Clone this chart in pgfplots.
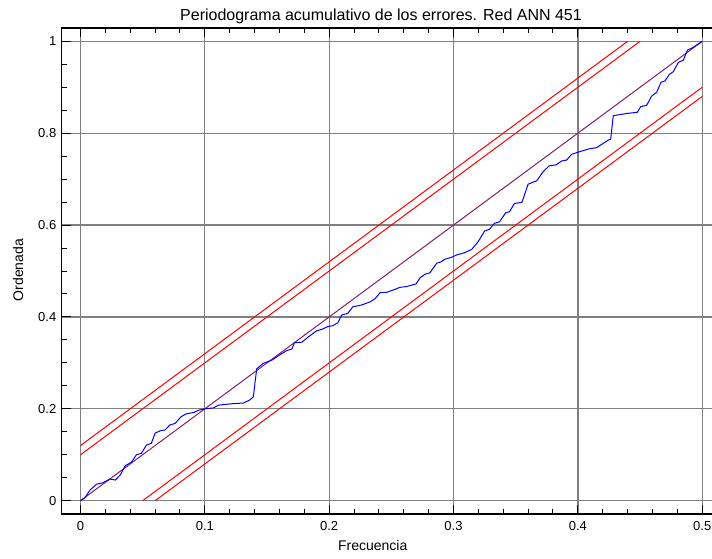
\documentclass[border=0pt]{standalone}
\usepackage{pgfplots}
\pgfplotsset{compat=1.18}
\usepackage{fontspec}
\setmainfont{Liberation Sans}
\definecolor{diag}{rgb}{0.50,0.12,0.40}
\definecolor{gridgray}{rgb}{0.50,0.50,0.50}

\begin{document}
\begin{tikzpicture}
\begin{axis}[
  scale only axis,
  width=659pt, height=486pt,
  xmin=-0.015, xmax=0.515,
  ymin=-0.029, ymax=1.029,
  xtick={0,0.1,0.2,0.3,0.4,0.5},
  xticklabels={0,0.1,0.2,0.3,0.4,0.5},
  ytick={0,0.2,0.4,0.6,0.8,1},
  yticklabels={0,0.2,0.4,0.6,0.8,1},
  minor x tick num=4,
  minor y tick num=3,
  tick align=inside,
  major tick length=9pt,
  minor tick length=5pt,
  tick style={black, line width=1pt},
  grid=major,
  major grid style={gridgray, line width=1.3pt},
  axis line style={black, line width=1.2pt},
  ticklabel style={font=\fontsize{13}{15}\selectfont},
  xticklabel style={yshift=-4pt},
  yticklabel style={xshift=-2pt},
  title={Periodograma acumulativo de los errores. Red ANN 451},
  title style={at={(axis cs:0.2417,1.029)}, anchor=base, yshift=2pt,
               font=\fontsize{16}{18}\selectfont},
  xlabel={Frecuencia},
  xlabel style={at={(axis cs:0.235,-0.029)}, anchor=north, yshift=-23pt,
                font=\fontsize{14}{16}\selectfont},
  ylabel={Ordenada},
  ylabel style={at={(axis cs:-0.015,0.502)}, anchor=south, yshift=35pt,
                font=\fontsize{14}{16}\selectfont},
  clip=true,
]
% confidence bands
\addplot[red, line width=1pt] coordinates {(0,0.12) (0.44,1)};
\addplot[red, line width=1pt] coordinates {(0,0.10) (0.45,1)};
\addplot[red, line width=1pt] coordinates {(0.05,0) (0.5,0.90)};
\addplot[red, line width=1pt] coordinates {(0.06,0) (0.5,0.88)};
% reference diagonal
\addplot[diag, line width=1pt] coordinates {(0,0) (0.5,1)};
% cumulative periodogram
\addplot[blue, line width=1pt] coordinates {
(0,0) (0.0036,0.0065) (0.0076,0.023) (0.013,0.036) (0.018,0.039)
(0.0237,0.047) (0.028,0.045) (0.032,0.056) (0.036,0.076) (0.041,0.084)
(0.045,0.100) (0.049,0.103) (0.053,0.121) (0.057,0.125) (0.060,0.147)
(0.064,0.152) (0.068,0.154) (0.072,0.165) (0.076,0.168) (0.081,0.183)
(0.085,0.189) (0.091,0.192) (0.095,0.197) (0.100,0.200) (0.107,0.202)
(0.111,0.208) (0.1216,0.211) (0.131,0.2126) (0.136,0.219) (0.139,0.226)
(0.1417,0.287) (0.147,0.299) (0.154,0.306) (0.160,0.317) (0.166,0.327)
(0.170,0.330) (0.172,0.344) (0.178,0.345) (0.183,0.356) (0.190,0.370)
(0.194,0.373) (0.199,0.379) (0.203,0.381) (0.207,0.3875) (0.210,0.404)
(0.215,0.408) (0.219,0.422) (0.226,0.426) (0.233,0.433) (0.237,0.440)
(0.241,0.453) (0.246,0.4535) (0.2516,0.4587) (0.257,0.4645) (0.262,0.466)
(0.270,0.472) (0.273,0.485) (0.277,0.493) (0.281,0.496) (0.2865,0.517)
(0.290,0.520) (0.293,0.5255) (0.2985,0.530) (0.3026,0.535) (0.309,0.540)
(0.3146,0.547) (0.3187,0.560) (0.321,0.569) (0.325,0.587) (0.329,0.591)
(0.333,0.604) (0.337,0.607) (0.342,0.627) (0.345,0.629) (0.349,0.647)
(0.355,0.6495) (0.360,0.689) (0.367,0.6966) (0.372,0.716) (0.377,0.729)
(0.3824,0.731) (0.387,0.7395) (0.391,0.7416) (0.395,0.754) (0.4017,0.760)
(0.4084,0.7655) (0.415,0.7685) (0.4205,0.778) (0.4245,0.785) (0.4264,0.787)
(0.4285,0.838) (0.4393,0.843) (0.4478,0.8455) (0.4505,0.8576) (0.4554,0.861)
(0.4594,0.881) (0.4634,0.889) (0.4669,0.911) (0.470,0.9136) (0.4736,0.928)
(0.4768,0.934) (0.4808,0.954) (0.4848,0.959) (0.4881,0.981) (0.4916,0.985)
(0.4956,0.992) (0.500,1.000)
};
\end{axis}
\pgfresetboundingbox
\path[use as bounding box] (-61.85pt,-44pt) rectangle (650.15pt,514pt);
\end{tikzpicture}
\end{document}
